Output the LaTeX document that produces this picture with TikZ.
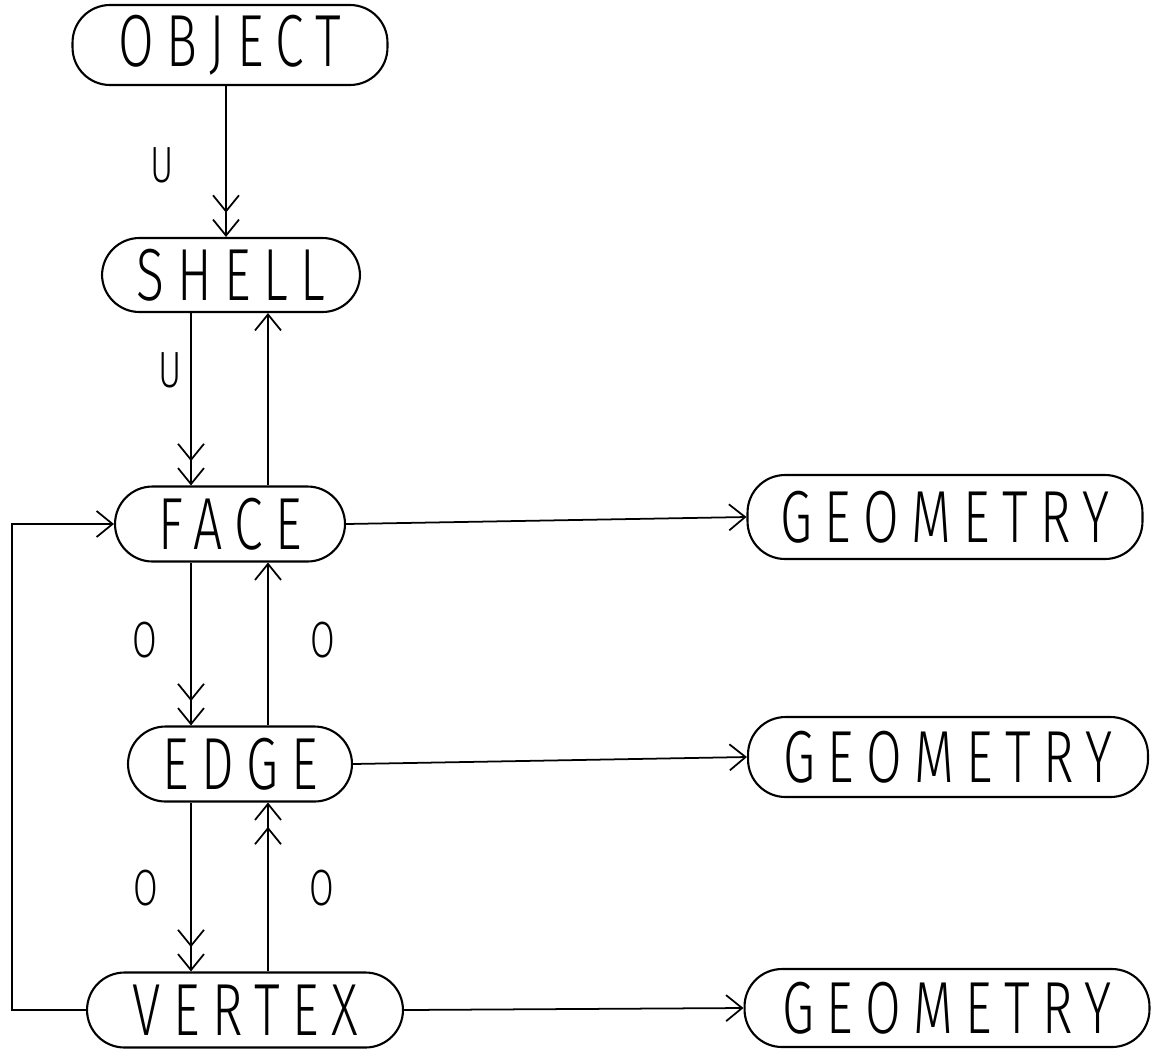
\documentclass[tikz,border=0pt]{standalone}
\usepackage{fontspec}
\usetikzlibrary{arrows.meta}
% thin, narrow, widely spaced capitals in the manner of a pen plotter
\newfontfamily\plotfont[FakeStretch=0.7,LetterSpace=17]{Fira Sans Light}
\begin{document}
\begin{tikzpicture}[x=0.02cm,y=-0.02cm,
  entity/.style={draw, line width=1.2pt, rounded corners=0.75cm, inner sep=0pt,
    font=\plotfont\fontsize{42}{42}\selectfont, minimum height=1.5cm},
  lbl/.style={font=\plotfont\fontsize{29}{29}\selectfont, inner sep=0pt},
  link/.style={line width=1pt},
  one/.style={link, -{Straight Barb[length=0.32cm,width=0.52cm]}},
  many/.style={link, -{Straight Barb[length=0.32cm,width=0.52cm,sep=0.12cm] Straight Barb[length=0.32cm,width=0.52cm]}}
]
\useasboundingbox (0,0) rectangle (1158,1055);

% entities of the boundary representation
\node[entity, minimum width=6.3cm, minimum height=1.6cm] (object) at (230,45) {OBJECT};
\node[entity, minimum width=5.16cm, minimum height=1.48cm] (shell) at (231,275) {SHELL};
\node[entity, minimum width=4.6cm] (face) at (230,524) {FACE};
\node[entity, minimum width=4.48cm] (edge) at (240,764) {EDGE};
\node[entity, minimum width=6.32cm, minimum height=1.5cm] (vertex) at (245,1010) {VERTEX};
\node[entity, minimum width=7.9cm, minimum height=1.68cm] (geo1) at (945,517) {GEOMETRY};
\node[entity, minimum width=8.0cm, minimum height=1.6cm] (geo2) at (948,757) {GEOMETRY};
\node[entity, minimum width=8.1cm, minimum height=1.56cm] (geo3) at (947,1008) {GEOMETRY};

% columns of the vertical links
\coordinate (xa) at (226,0);
\coordinate (xd) at (191,0);
\coordinate (xu) at (268,0);
\coordinate (xl) at (12,0);

% downward (to-many) and upward links
\draw[many] (object.south -| xa) -- (shell.north -| xa);
\draw[many] (shell.south -| xd) -- (face.north -| xd);
\draw[one]  (face.north -| xu) -- (shell.south -| xu);
\draw[many] (face.south -| xd) -- (edge.north -| xd);
\draw[one]  (edge.north -| xu) -- (face.south -| xu);
\draw[many] (edge.south -| xd) -- (vertex.north -| xd);
\draw[many] (vertex.north -| xu) -- (edge.south -| xu);

% vertex back to face
\draw[one] (vertex.west) -- (vertex.west -| xl) -- (face.west -| xl) -- (face.west);

% geometry links
\draw[one] (face.east) -- (geo1.west);
\draw[one] (edge.east) -- (geo2.west);
\draw[one] (vertex.east) -- (geo3.west);

% ordering labels
\node[lbl] (l1) at (162,165) {U};
\node[lbl] (l2) at (170,370) {U};
\node[lbl] (l3) at (145,640) {O};
\node[lbl] (l4) at (323,640) {O};
\node[lbl] (l5) at (146,888) {O};
\node[lbl] (l6) at (322,888) {O};
\end{tikzpicture}
\end{document}
